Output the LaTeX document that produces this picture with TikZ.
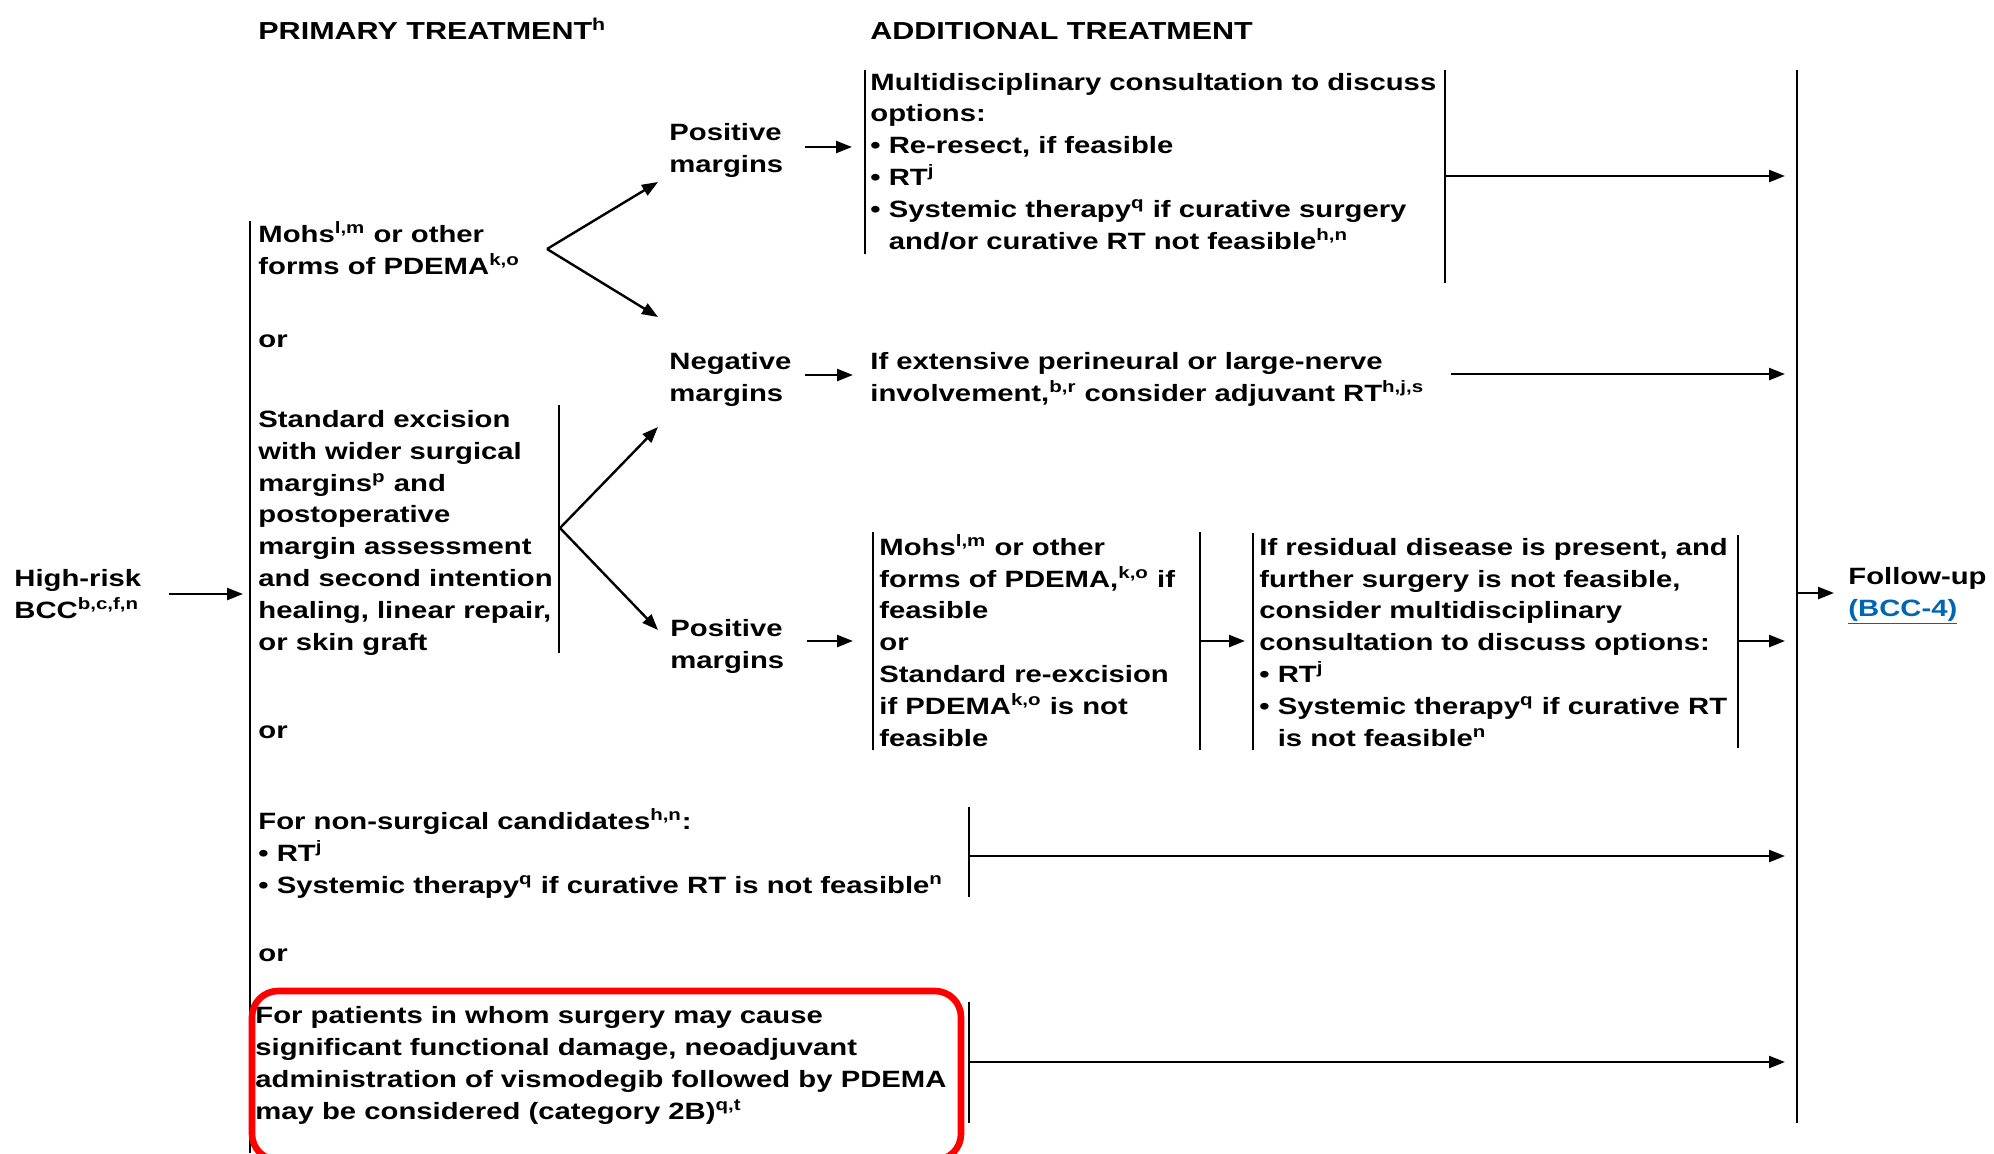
\documentclass[tikz,border=0pt]{standalone}
\usepackage{fontspec}
\setmainfont{Liberation Sans}[FakeStretch=1.24]
\usetikzlibrary{arrows.meta}
\definecolor{linkblue}{RGB}{0,102,178}
\definecolor{boxred}{RGB}{255,0,0}
\tikzset{
  txt/.style={anchor=base west, inner sep=0pt, align=left,
    font=\fontsize{11.8}{15.9}\selectfont\bfseries},
  hdr/.style={txt, font=\fontsize{12.3}{15.9}\selectfont\bfseries},
  bar/.style={line width=1pt},
  arr/.style={line width=1.2pt, -{Triangle[length=8pt,width=6pt]}},
}
\newcommand{\sups}[1]{\textsuperscript{#1}}
\newcommand{\bul}{\textbullet\ }
\newcommand{\hang}{\hphantom{\textbullet\ }}
\begin{document}
\begin{tikzpicture}[x=0.5pt,y=-0.5pt]
  \useasboundingbox (0,0) rectangle (1994,1153);
  % base of a node = baseline of its last line
  \node[hdr] (hdrP) at (258,39) {PRIMARY TREATMENT\sups{h}};
  \node[hdr] (hdrA) at (870,39) {ADDITIONAL TREATMENT};
  \node[txt] (hrisk) at (14,618) {High-risk\\BCC\sups{b,c,f,n}};
  \node[txt] (mohsA) at (258,274) {Mohs\sups{l,m} or other\\forms of PDEMA\sups{k,o}};
  \node[txt] (orA) at (258,347) {or};
  \node[txt] (stdexc) at (258,650) {Standard excision\\with wider surgical\\margins\sups{p} and\\postoperative\\margin assessment\\and second intention\\healing, linear repair,\\or skin graft};
  \node[txt] (orB) at (258,738) {or};
  \node[txt] (nonsurg) at (258,893) {For non-surgical candidates\sups{h,n}:\\\bul RT\sups{j}\\\bul Systemic therapy\sups{q} if curative RT is not feasible\sups{n}};
  \node[txt] (orC) at (258,961) {or};
  \node[txt] (vismo) at (255,1119) {For patients in whom surgery may cause\\significant functional damage, neoadjuvant\\administration of vismodegib followed by PDEMA\\may be considered (category 2B)\sups{q,t}};
  \node[txt] (posA) at (669,172) {Positive\\margins};
  \node[txt] (negA) at (669,401) {Negative\\margins};
  \node[txt] (posB) at (670,668) {Positive\\margins};
  \node[txt] (multi) at (870,249) {Multidisciplinary consultation to discuss\\options:\\\bul Re-resect, if feasible\\\bul RT\sups{j}\\\bul Systemic therapy\sups{q} if curative surgery\\\hang and/or curative RT not feasible\sups{h,n}};
  \node[txt] (perin) at (870,401) {If extensive perineural or large-nerve\\involvement,\sups{b,r} consider adjuvant RT\sups{h,j,s}};
  \node[txt] (mohsB) at (879,746) {Mohs\sups{l,m} or other\\forms of PDEMA,\sups{k,o} if\\feasible\\or\\Standard re-excision\\if PDEMA\sups{k,o} is not\\feasible};
  \node[txt] (resid) at (1259,746) {If residual disease is present, and\\further surgery is not feasible,\\consider multidisciplinary\\consultation to discuss options:\\\bul RT\sups{j}\\\bul Systemic therapy\sups{q} if curative RT\\\hang is not feasible\sups{n}};
  \node[txt] (follow) at (1848,616) {Follow-up\\\textcolor{linkblue}{\underline{(BCC-4)}}};

  \coordinate (mainT) at (250,221);
  \coordinate (mainB) at (250,1153);
  \coordinate (stdT) at (559,405);
  \coordinate (stdB) at (559,653);
  \coordinate (multiLT) at (865,70);
  \coordinate (multiLB) at (865,254);
  \coordinate (multiRT) at (1445,70);
  \coordinate (multiRB) at (1445,283);
  \coordinate (mohsLT) at (873,532);
  \coordinate (mohsLB) at (873,750);
  \coordinate (mohsRT) at (1200,532);
  \coordinate (mohsRB) at (1200,750);
  \coordinate (residLT) at (1253,533);
  \coordinate (residLB) at (1253,750);
  \coordinate (residRT) at (1738,535);
  \coordinate (residRB) at (1738,748);
  \coordinate (nonsurgT) at (969,807);
  \coordinate (nonsurgB) at (969,897);
  \coordinate (vismoT) at (969,1002);
  \coordinate (vismoB) at (969,1123);
  \coordinate (followT) at (1797,70);
  \coordinate (followB) at (1797,1123);
  \draw[bar] (mainT) -- (mainB);
  \draw[bar] (stdT) -- (stdB);
  \draw[bar] (multiLT) -- (multiLB);
  \draw[bar] (multiRT) -- (multiRB);
  \draw[bar] (mohsLT) -- (mohsLB);
  \draw[bar] (mohsRT) -- (mohsRB);
  \draw[bar] (residLT) -- (residLB);
  \draw[bar] (residRT) -- (residRB);
  \draw[bar] (nonsurgT) -- (nonsurgB);
  \draw[bar] (vismoT) -- (vismoB);
  \draw[bar] (followT) -- (followB);

  \coordinate (hriskE) at (169,594);
  \coordinate (mainIn) at (243,594);
  \coordinate (forkA) at (547,249);
  \coordinate (posAtip) at (658,182);
  \coordinate (negAtip) at (658,317);
  \coordinate (forkB) at (560,528);
  \coordinate (negBtip) at (658,427);
  \coordinate (posBtip) at (658,630);
  \coordinate (posAE) at (805,147);
  \coordinate (multiIn) at (852,147);
  \coordinate (negAE) at (805,375);
  \coordinate (perinIn) at (853,375);
  \coordinate (posBE) at (807,641);
  \coordinate (mohsIn) at (853,641);
  \coordinate (mohsOut) at (1200,641);
  \coordinate (residIn) at (1245,641);
  \coordinate (residOut) at (1738,641);
  \coordinate (multiOut) at (1445,176);
  \coordinate (perinOut) at (1451,374);
  \coordinate (nonsurgOut) at (969,856);
  \coordinate (vismoOut) at (969,1062);
  \coordinate (followL) at (1785,0);
  \coordinate (followIn) at (1797,593);
  \coordinate (followTip) at (1834,593);
  \draw[arr] (hriskE) -- (mainIn);
  \draw[arr] (forkA) -- (posAtip);
  \draw[arr] (forkA) -- (negAtip);
  \draw[arr] (forkB) -- (negBtip);
  \draw[arr] (forkB) -- (posBtip);
  \draw[arr] (posAE) -- (multiIn);
  \draw[arr] (negAE) -- (perinIn);
  \draw[arr] (posBE) -- (mohsIn);
  \draw[arr] (mohsOut) -- (residIn);
  \draw[arr] (residOut) -- (followL |- residOut);
  \draw[arr] (multiOut) -- (followL |- multiOut);
  \draw[arr] (perinOut) -- (followL |- perinOut);
  \draw[arr] (nonsurgOut) -- (followL |- nonsurgOut);
  \draw[arr] (vismoOut) -- (followL |- vismoOut);
  \draw[arr] (followIn) -- (followTip);

  \draw[boxred,line width=3.3pt,rounded corners=13pt] (252,991) rectangle (961,1160);
\end{tikzpicture}
\end{document}
